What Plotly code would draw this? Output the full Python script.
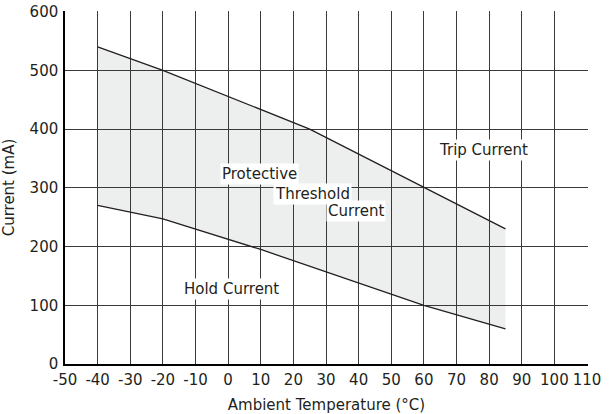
import plotly.graph_objects as go

trip_temp = [-40, -20, 25, 60, 85]
trip_ma = [540, 500, 400, 300, 230]
hold_temp = [-40, -20, 10, 60, 85]
hold_ma = [270, 247, 195, 100, 60]

label_text = ["Protective", "Threshold", "Current", "Trip Current", "Hold Current"]
label_x = [9.5, 26, 39.2, 78.4, 0.9]
label_y = [323, 290, 260, 365, 127]

x_ticks = list(range(-50, 111, 10))
x_tick_text = [str(v) for v in x_ticks]  # plain hyphen like the original
y_ticks = list(range(0, 601, 100))

font = "DejaVu Sans, sans-serif"
ink = "#231f20"
grid = "#3d3a3a"

fig = go.Figure()

fig.add_trace(go.Scatter(x=hold_temp, y=hold_ma, mode="lines",
                         line=dict(color=ink, width=1.3), showlegend=False,
                         hoverinfo="skip"))
fig.add_trace(go.Scatter(x=trip_temp, y=trip_ma, mode="lines",
                         line=dict(color=ink, width=1.3), showlegend=False,
                         fill="tonexty", fillcolor="rgba(30,45,40,0.08)",
                         hoverinfo="skip"))

for t, x, y in zip(label_text, label_x, label_y):
    fig.add_annotation(x=x, y=y, text=t, showarrow=False, bgcolor="white",
                       font=dict(family=font, size=15, color=ink),
                       borderpad=1)

# ranges nudged a hair past 110 / 600 so the edge gridlines still get drawn
fig.update_xaxes(range=[-50, 110.3], tickvals=x_ticks, ticktext=x_tick_text,
                 showgrid=True, gridcolor=grid, gridwidth=1, zeroline=False,
                 showline=True, linecolor="black", linewidth=1.5,
                 ticks="", ticklabelstandoff=1, automargin=False,
                 tickfont=dict(family=font, size=15, color=ink),
                 title=dict(text="Ambient Temperature (°C)",
                            font=dict(family=font, size=15, color=ink)))
fig.update_yaxes(range=[0, 601], tickvals=y_ticks, showgrid=True,
                 gridcolor=grid, gridwidth=1, zeroline=False,
                 showline=True, linecolor="black", linewidth=1.5,
                 ticks="", ticklabelstandoff=2, automargin=False,
                 tickfont=dict(family=font, size=15, color=ink),
                 title=dict(text="Current (mA)",
                            font=dict(family=font, size=15, color=ink)))

fig.update_layout(width=610, height=414, plot_bgcolor="white",
                  paper_bgcolor="white",
                  margin=dict(l=65, r=22, t=11, b=50))

# drop the default 8px body margin so the figure sits at the page corner
fig.write_html("out.html", config={"displayModeBar": False},
               post_script="document.body.style.margin='0';")
